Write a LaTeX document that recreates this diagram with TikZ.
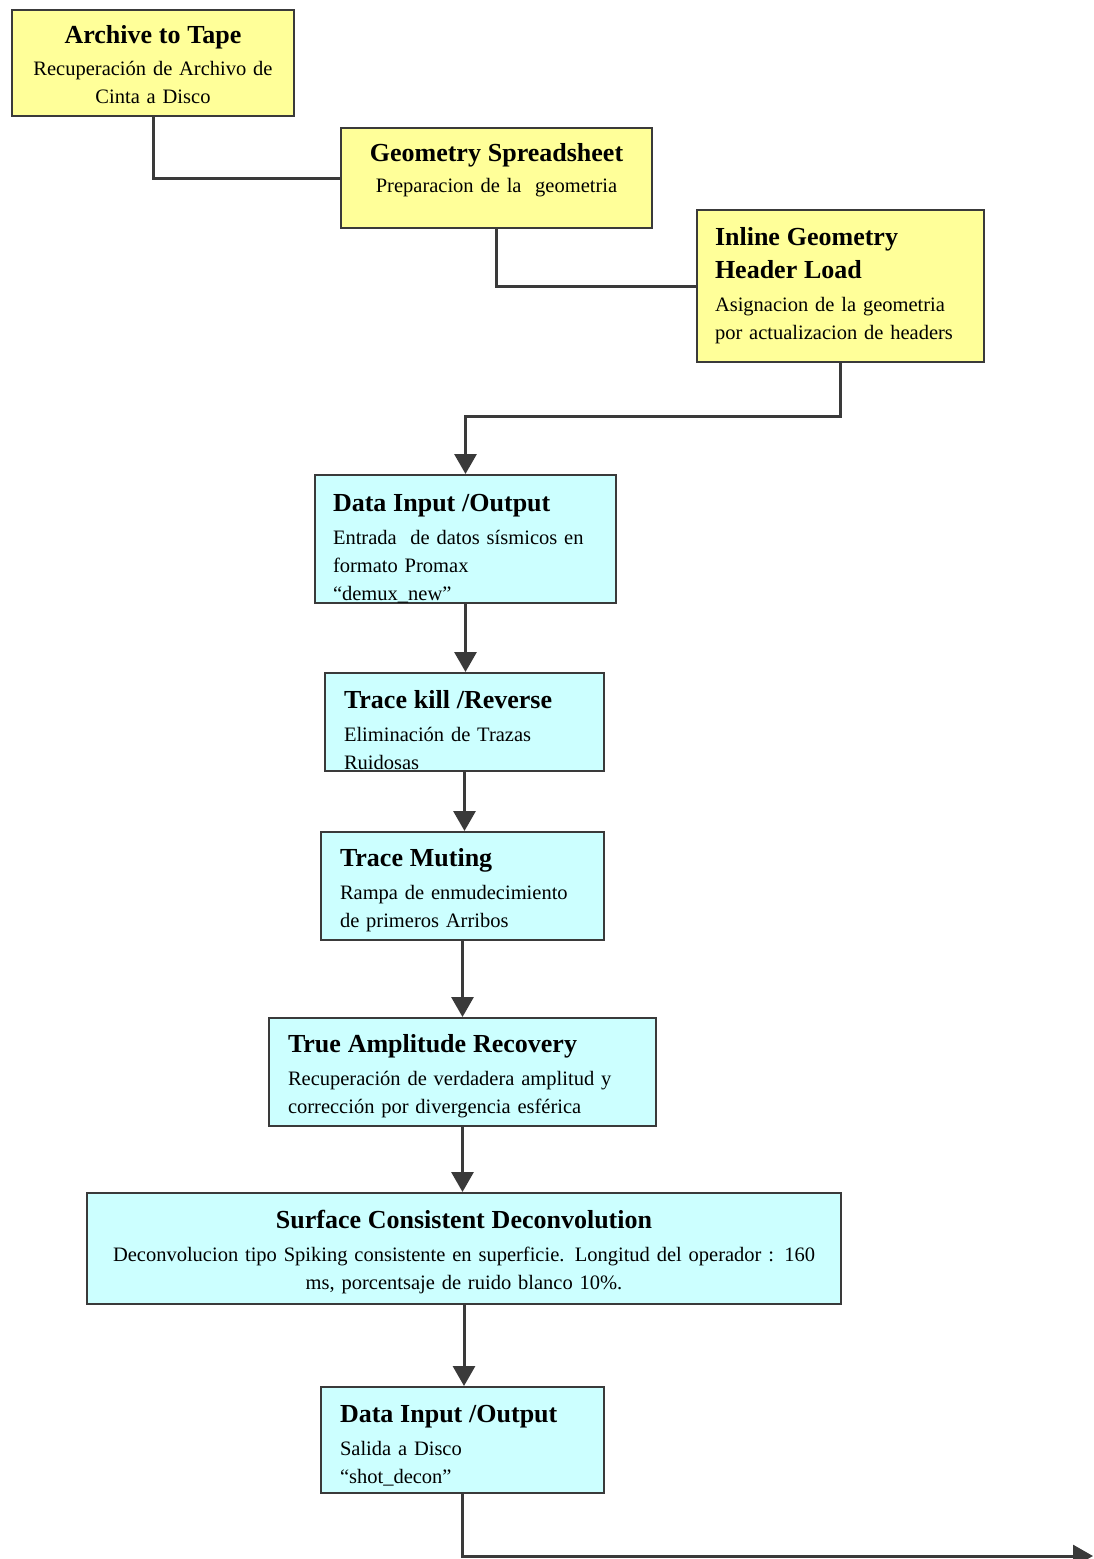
\documentclass[tikz,border=0pt]{standalone}
\usepackage{fontspec}
\setmainfont{Liberation Serif}
\usetikzlibrary{arrows.meta}
\definecolor{ylw}{HTML}{FFFF99}
\definecolor{cyn}{HTML}{CCFFFF}
\definecolor{edge}{HTML}{3A3A3A}
\newcommand{\ttl}[1]{{\fontsize{26}{28}\selectfont\bfseries #1}}
\newcommand{\dn}[1]{\rule{0pt}{#1pt}}
\tikzset{
  box/.style={draw=edge, line width=2pt, anchor=north west, inner ysep=0pt,
    font=\fontsize{20.5}{28}\selectfont},
  ybox/.style={box, fill=ylw},
  cbox/.style={box, fill=cyn},
  conn/.style={draw=edge, line width=3pt},
  arr/.style={conn, -{Triangle[length=20pt,width=22pt]}},
}
\begin{document}
\begin{tikzpicture}[x=1pt,y=-1pt]
\useasboundingbox (0,0) rectangle (1094,1559);

\node[ybox, align=center, text width=266pt, inner xsep=8pt, minimum height=106pt] (arch) at (11,9)
  {\dn{22}\ttl{Archive to Tape}\\[4pt] Recuperación de Archivo de\\ Cinta a Disco};
\node[ybox, align=center, text width=295pt, inner xsep=8pt, minimum height=100pt] (geo) at (340,127)
  {\dn{31}\ttl{Geometry Spreadsheet}\\[3pt] Preparacion de la\ \ geometria\\[-4pt]\strut};
\node[ybox, align=left, text width=251pt, inner xsep=18pt, minimum height=152pt] (inl) at (696,209)
  {\ttl{Inline Geometry}\\[5pt] \ttl{Header Load}\\[5pt] Asignacion de la geometria\\ por actualizacion de headers};

\node[cbox, align=left, text width=265pt, inner xsep=18pt, minimum height=127pt] (dio) at (314,474)
  {\dn{36}\ttl{Data Input /Output}\\[5pt] Entrada\ \ de datos sísmicos en\\ formato Promax\\ “demux\_new”};
\node[cbox, align=left, text width=241pt, inner xsep=19pt, minimum height=98pt] (tk) at (324,672)
  {\dn{34}\ttl{Trace kill /Reverse}\\[5pt] Eliminación de Trazas\\ Ruidosas};
\node[cbox, align=left, text width=245pt, inner xsep=19pt, minimum height=108pt] (mut) at (320,831)
  {\dn{26}\ttl{Trace Muting}\\[5pt] Rampa de enmudecimiento\\ de primeros Arribos};
\node[cbox, align=left, text width=349pt, inner xsep=19pt, minimum height=108pt] (tar) at (268,1017)
  {\dn{26}\ttl{True Amplitude Recovery}\\[5pt] Recuperación de verdadera amplitud y\\ corrección por divergencia esférica};
\node[cbox, align=center, text width=742pt, inner xsep=6pt, minimum height=111pt] (scd) at (86,1192)
  {\dn{26}\ttl{Surface Consistent Deconvolution}\\[5pt] Deconvolucion tipo Spiking consistente en superficie. Longitud del operador : 160\\ ms, porcentsaje de ruido blanco 10\%.};
\node[cbox, align=left, text width=245pt, inner xsep=19pt, minimum height=106pt] (dio2) at (320,1386)
  {\dn{28}\ttl{Data Input /Output}\\[5pt] Salida a Disco\\ “shot\_decon”};

\coordinate (b1) at (600,416);
\coordinate (fin) at (1093,1556);

\draw[conn] (arch.south) |- (geo.west);
\draw[conn] (geo.south) |- (inl.west);
\draw[arr] (inl.south) |- (b1) -| (dio.north);
\draw[arr] (dio.south) -- (dio.south |- tk.north);
\draw[arr] (tk.south) -- (tk.south |- mut.north);
\draw[arr] (mut.south) -- (mut.south |- tar.north);
\draw[arr] (tar.south) -- (tar.south |- scd.north);
\draw[arr] (scd.south) -- (scd.south |- dio2.north);
\draw[arr] (dio2.south) |- (fin);
\end{tikzpicture}
\end{document}
